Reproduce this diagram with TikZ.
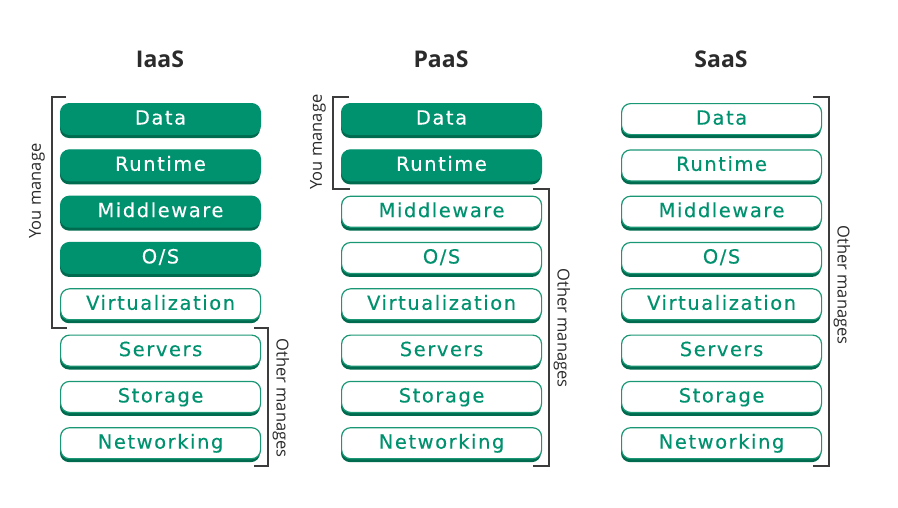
\documentclass[tikz,border=0pt]{standalone}
\usepackage{fontspec}
\newfontfamily\boxfont[LetterSpace=8,FakeBold=0.3]{DejaVu Sans}
\newfontfamily\labfont{Open Sans}
\definecolor{gfill}{HTML}{00916E}
\definecolor{gshadow}{HTML}{006B4E}
\definecolor{gline}{HTML}{1A9876}
\definecolor{brk}{HTML}{3C3C3C}
\definecolor{titlec}{HTML}{2B2B2B}
\tikzset{
  layerbox/.style={minimum width=200pt, minimum height=31pt, inner sep=0pt,
    rounded corners=9pt, anchor=north west, text height=14.5pt, text depth=3.5pt,
    font=\boxfont\fontsize{19.5}{22}\selectfont},
  filledbox/.style={layerbox, fill=gfill, draw=gfill, line width=1pt, text=white},
  openbox/.style={layerbox, fill=white, draw=gline, line width=1.2pt, text=gfill},
  shadowbox/.style={fill=gshadow, rounded corners=9pt},
  titlelbl/.style={font=\labfont\bfseries\fontsize{23}{26}\selectfont, text=titlec, anchor=base},
  sidelbl/.style={font=\labfont\fontsize{16.5}{19}\selectfont, text=titlec, inner sep=0pt},
  bracket/.style={draw=brk, line width=1.2pt}
}
\begin{document}
\begin{tikzpicture}[x=1pt,y=-1pt]
\useasboundingbox[fill=white] (0,0) rectangle (898,507);
% titles
\node[titlelbl] (tI) at (160,67) {IaaS};
\node[titlelbl] (tP) at (441,67) {PaaS};
\node[titlelbl] (tS) at (721,67) {SaaS};
% layers
\foreach \col/\x/\nf in {I/60/4, P/341/2, S/621/0} {
  \foreach \lbl [count=\r from 0] in {Data,Runtime,Middleware,O/S,Virtualization,Servers,Storage,Networking} {
    \pgfmathsetmacro{\top}{103+46.3*\r}
    \fill[shadowbox] (\x,\top+4) rectangle (\x+200,\top+35);
    \ifnum\r<\nf
      \node[filledbox] (\col\r) at (\x,\top) {\lbl};
    \else
      \node[openbox] (\col\r) at (\x,\top) {\lbl};
    \fi
  }
}
% brackets
\draw[bracket] (66,97) -- (52,97) -- (52,328) -- (67,328);
\draw[bracket] (254,328) -- (268,328) -- (268,466) -- (254,466);
\draw[bracket] (349,97) -- (333,97) -- (333,189) -- (350,189);
\draw[bracket] (533,189) -- (549,189) -- (549,466) -- (533,466);
\draw[bracket] (813,97) -- (829,97) -- (829,466) -- (813,466);
% side labels
\node[sidelbl, rotate=90] (yI) at (37,191) {You manage};
\node[sidelbl, rotate=90] (yP) at (318,142) {You manage};
\node[sidelbl, rotate=-90] (oI) at (281,398) {Other manages};
\node[sidelbl, rotate=-90] (oP) at (562,328) {Other manages};
\node[sidelbl, rotate=-90] (oS) at (842,285) {Other manages};
\end{tikzpicture}
\end{document}
